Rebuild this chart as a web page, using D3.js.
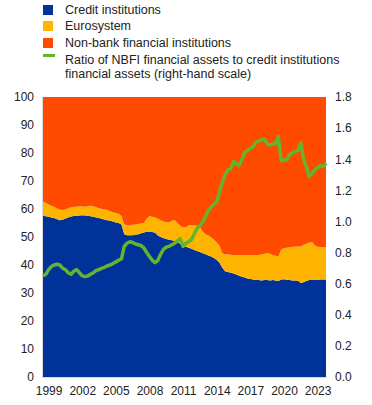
<!DOCTYPE html>
<html>
<head>
<meta charset="utf-8">
<script src="https://cdn.jsdelivr.net/npm/d3@7"></script>
<style>
  html, body { margin: 0; padding: 0; background: #fff; }
  svg { display: block; font-family: "Liberation Sans", Arial, sans-serif; }
</style>
</head>
<body>
<svg id="chart" width="372" height="405"></svg>
<script>
// Quarterly observations, 1999Q1 .. 2024Q2
const startYear = 1999;
const credit = [
  57.6,57.4,57.2,57.0, 56.8,56.3,56.0,56.2, 56.6,57.0,57.3,57.5, 57.6,57.7,57.8,57.7,
  57.6,57.4,57.2,57.0, 56.8,56.5,56.2,56.0, 55.8,55.5,55.2,55.0, 54.5,51.0,50.6,50.6,
  50.6,50.8,51.0,51.3, 51.6,51.9,52.0,51.8, 51.5,50.5,50.0,49.6, 49.3,49.0,48.8,48.6,
  48.3,47.5,47.0,46.5, 46.2,45.8,45.4,45.0, 44.6,44.2,43.8,43.4, 43.0,42.5,41.8,40.8,
  39.0,37.8,37.5,37.2, 37.0,36.6,36.2,35.8, 35.5,35.2,35.0,34.8, 34.6,34.6,34.5,34.6,
  34.6,34.5,34.6,34.5, 34.3,34.8,34.9,34.7, 34.6,34.5,34.5,34.4, 33.6,33.8,34.3,34.6,
  34.7,34.6,34.7,34.8, 34.8,34.8
];
const eurosystem = [
  5.0,4.8,4.4,4.2, 4.0,3.9,3.8,3.4, 3.2,3.2,3.3,3.3, 3.2,3.3,3.2,3.1,
  3.4,3.8,3.8,3.6, 3.5,3.5,3.6,3.6, 3.4,3.3,3.4,3.3, 3.0,3.5,3.7,3.7,
  3.8,3.7,3.6,3.5, 3.4,4.6,5.5,5.4, 5.5,6.0,6.0,5.9, 6.0,6.3,7.0,7.4,
  6.7,6.5,6.5,7.0, 8.0,8.5,8.8,9.0, 8.9,7.8,7.2,7.1, 6.8,6.5,6.2,6.2,
  5.2,6.0,6.3,6.5, 6.6,7.0,7.3,7.8, 8.1,8.4,8.6,8.8, 9.0,9.0,9.3,9.4,
  9.6,9.5,9.0,8.8, 8.7,10.7,11.1,11.5, 11.7,12.0,12.0,12.2, 13.0,13.4,13.3,13.4,
  13.5,12.4,11.8,11.6, 11.5,11.5
];
const nonbank = [
  37.4,37.8,38.4,38.8, 39.2,39.8,40.2,40.4, 40.2,39.8,39.4,39.2, 39.2,39.0,39.0,39.2,
  39.0,38.8,39.0,39.4, 39.7,40.0,40.2,40.4, 40.8,41.2,41.4,41.7, 42.5,45.5,45.7,45.7,
  45.6,45.5,45.4,45.2, 45.0,43.5,42.5,42.8, 43.0,43.5,44.0,44.5, 44.7,44.7,44.2,44.0,
  45.0,46.0,46.5,46.5, 45.8,45.7,45.8,46.0, 46.5,48.0,49.0,49.5, 50.2,51.0,52.0,53.0,
  55.8,56.2,56.2,56.3, 56.4,56.4,56.5,56.4, 56.4,56.4,56.4,56.4, 56.4,56.4,56.2,56.0,
  55.8,56.0,56.4,56.7, 57.0,54.5,54.0,53.8, 53.7,53.5,53.5,53.4, 53.4,52.8,52.4,52.0,
  51.8,53.0,53.5,53.6, 53.7,53.7
];
const ratio = [
  0.65,0.66,0.69,0.71, 0.72,0.725,0.72,0.70, 0.69,0.67,0.66,0.68, 0.69,0.67,0.65,0.645,
  0.65,0.66,0.67,0.685, 0.69,0.70,0.705,0.715, 0.72,0.73,0.74,0.75, 0.76,0.84,0.86,0.87,
  0.865,0.855,0.85,0.845, 0.83,0.80,0.775,0.75, 0.735,0.75,0.79,0.82, 0.835,0.84,0.85,0.86,
  0.875,0.89,0.84,0.86, 0.87,0.885,0.92,0.955, 0.975,0.995,1.03,1.07, 1.09,1.11,1.125,1.19,
  1.25,1.30,1.33,1.34, 1.385,1.37,1.36,1.40, 1.445,1.455,1.47,1.48, 1.51,1.515,1.525,1.53,
  1.50,1.49,1.50,1.50, 1.545,1.39,1.395,1.395, 1.43,1.44,1.45,1.455, 1.505,1.40,1.35,1.29,
  1.31,1.33,1.345,1.36, 1.35,1.375
];
const xTickYears = [1999, 2002, 2005, 2008, 2011, 2014, 2017, 2020, 2023];
const leftTicks = [0,10,20,30,40,50,60,70,80,90,100];
const rightTicks = [0,0.2,0.4,0.6,0.8,1.0,1.2,1.4,1.6,1.8];
const seriesNames = ["Credit institutions", "Eurosystem", "Non-bank financial institutions"];
const lineName = ["Ratio of NBFI financial assets to credit institutions", "financial assets (right-hand scale)"];
const colors = { credit: "#003299", euro: "#FFB400", nbfi: "#FF4B00", ratio: "#65B32E" };

const svg = d3.select("#chart");
const L = 43, R = 326, T = 97, B = 377;

const rows = credit.map((c, i) => ({
  t: startYear + i / 4, credit: c, euro: eurosystem[i], nbfi: nonbank[i], ratio: ratio[i]
}));
const lastT = rows[rows.length - 1].t;

const x = d3.scaleLinear().domain([startYear, lastT]).range([L, R]);
const y = d3.scaleLinear().domain([0, 100]).range([B, T]);
const y2 = d3.scaleLinear().domain([0, 1.8]).range([B, T]);

const stack = d3.stack().keys(["credit", "euro", "nbfi"]);
const stacked = stack(rows);
const area = d3.area().x(d => x(d.data.t)).y0(d => y(d[0])).y1(d => y(d[1]));
const fills = [colors.credit, colors.euro, colors.nbfi];

svg.append("g").selectAll("path").data(stacked).join("path")
  .attr("d", area).attr("fill", (d, i) => fills[i]);

// axis frame lines
svg.append("line").attr("x1", L - 0.5).attr("x2", L - 0.5).attr("y1", T).attr("y2", B + 0.5)
  .attr("stroke", "#d9d9d9").attr("stroke-width", 1);
svg.append("line").attr("x1", L - 1).attr("x2", R + 1).attr("y1", B + 0.5).attr("y2", B + 0.5)
  .attr("stroke", "#d9d9d9").attr("stroke-width", 1);

// ratio line
const line = d3.line().x(d => x(d.t)).y(d => y2(d.ratio));
svg.append("path").datum(rows).attr("d", line)
  .attr("fill", "none").attr("stroke", colors.ratio).attr("stroke-width", 3.5)
  .attr("stroke-linejoin", "round");

// axes
const fs = 12;
const leftAxis = d3.axisLeft(y).tickValues(leftTicks).tickSize(0).tickPadding(9);
const gl = svg.append("g").attr("transform", `translate(${L},0)`).call(leftAxis);
const rightAxis = d3.axisRight(y2).tickValues(rightTicks).tickSize(0).tickPadding(9).tickFormat(d3.format(".1f"));
const gr = svg.append("g").attr("transform", `translate(${R},0)`).call(rightAxis);
const bottomAxis = d3.axisBottom(x).tickValues(xTickYears.map(v => v + 0.5)).tickSize(0).tickPadding(9)
  .tickFormat(d => String(Math.floor(d)));
const gb = svg.append("g").attr("transform", `translate(0,${B})`).call(bottomAxis);
[gl, gr, gb].forEach(g => {
  g.select(".domain").remove();
  g.selectAll("text").attr("font-size", fs).attr("fill", "#222")
    .attr("font-family", "'Liberation Sans', Arial, sans-serif");
});

// legend
const lfs = 12.5;
const lg = svg.append("g");
const legendRows = [
  { name: seriesNames[0], color: colors.credit, y: 10 },
  { name: seriesNames[1], color: colors.euro, y: 26 },
  { name: seriesNames[2], color: colors.nbfi, y: 43 }
];
legendRows.forEach(r => {
  lg.append("rect").attr("x", 43).attr("y", r.y - 5).attr("width", 10).attr("height", 10).attr("fill", r.color);
  lg.append("text").attr("x", 65).attr("y", r.y).attr("dy", "0.35em")
    .attr("font-size", lfs).attr("fill", "#222").text(r.name);
});
lg.append("rect").attr("x", 43).attr("y", 54).attr("width", 12).attr("height", 3).attr("fill", colors.ratio);
lineName.forEach((t, i) => {
  lg.append("text").attr("x", 65).attr("y", 60 + i * 14).attr("dy", "0.35em")
    .attr("font-size", lfs).attr("fill", "#222").text(t);
});
</script>
</body>
</html>
